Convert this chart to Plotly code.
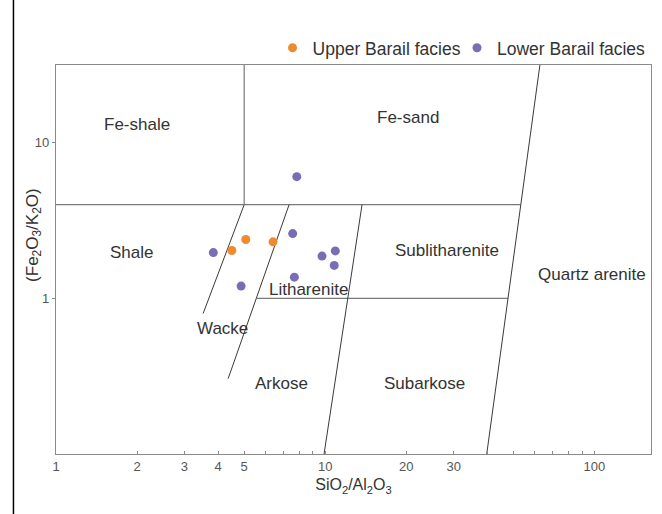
import plotly.graph_objects as go

# Sample geochemistry: SiO2/Al2O3 (x) against Fe2O3/K2O (y)
upper_sio2_al2o3 = [4.50, 5.07, 6.40]
upper_fe2o3_k2o = [2.03, 2.39, 2.31]

lower_sio2_al2o3 = [7.84, 7.57, 3.84, 9.73, 10.9, 10.8, 7.68, 4.87]
lower_fe2o3_k2o = [6.06, 2.61, 1.97, 1.87, 2.02, 1.63, 1.37, 1.20]

# Classification field boundaries (Herron-type diagram), as (x, y) end points
fe_split_x = [5.0, 5.0]
fe_split_y = [4.0, 31.6]
fe_base_x = [1.0, 53.2]
fe_base_y = [4.0, 4.0]
quartz_x = [62.7, 39.8]
quartz_y = [31.6, 0.1]
sublith_x = [13.7, 9.9]
sublith_y = [4.0, 0.1]
lith_base_x = [5.58, 47.8]
lith_base_y = [1.0, 1.0]
wacke_lith_x = [7.34, 4.36]
wacke_lith_y = [4.0, 0.305]
shale_wacke_x = [5.0, 3.52]
shale_wacke_y = [4.0, 0.80]

# Field names and their label positions (log10 of x, log10 of y)
field_names = ["Fe-shale", "Fe-sand", "Shale", "Sublitharenite", "Quartz arenite",
               "Litharenite", "Wacke", "Arkose", "Subarkose"]
field_logx = [0.302, 1.307, 0.279, 1.452, 1.990, 0.936, 0.617, 0.836, 1.367]
field_logy = [1.116, 1.161, 0.297, 0.310, 0.155, 0.058, -0.194, -0.548, -0.548]

x_tickvals = [1, 2, 3, 4, 5, 6, 7, 8, 9, 10, 20, 30, 40, 50, 60, 70, 80, 90, 100]
x_ticktext = ["1", "2", "3", "4", "5", "", "", "", "", "10", "20", "30",
              "", "", "", "", "", "", "100"]
y_tickvals = [1, 10]
y_ticktext = ["1", "10"]

FONT = "Liberation Sans, Arial, sans-serif"
ORANGE = "#F08A2E"
PURPLE = "#7B6DB4"
FRAME = "#8a8a8a"

fig = go.Figure()

grey_lines = [(fe_split_x, fe_split_y), (fe_base_x, fe_base_y), (lith_base_x, lith_base_y)]
dark_lines = [(quartz_x, quartz_y), (sublith_x, sublith_y),
              (wacke_lith_x, wacke_lith_y), (shale_wacke_x, shale_wacke_y)]
for xs, ys in grey_lines:
    fig.add_trace(go.Scatter(x=xs, y=ys, mode="lines", showlegend=False, hoverinfo="skip",
                             line=dict(color="#7a7a7a", width=1.2)))
for xs, ys in dark_lines:
    fig.add_trace(go.Scatter(x=xs, y=ys, mode="lines", showlegend=False, hoverinfo="skip",
                             line=dict(color="#3a3a3a", width=1)))

fig.add_trace(go.Scatter(x=upper_sio2_al2o3, y=upper_fe2o3_k2o, mode="markers",
                         name="Upper Barail facies", legend="legend",
                         marker=dict(color=ORANGE, size=9)))
fig.add_trace(go.Scatter(x=lower_sio2_al2o3, y=lower_fe2o3_k2o, mode="markers",
                         name="Lower Barail facies", legend="legend2",
                         marker=dict(color=PURPLE, size=9)))

for name, lx, ly in zip(field_names, field_logx, field_logy):
    fig.add_annotation(x=lx, y=ly, xref="x", yref="y", text=name, showarrow=False,
                       font=dict(family=FONT, size=17, color="#333333"))

# y-axis title
fig.add_annotation(x=-0.06, y=0.564, xref="paper", yref="paper",
                   text="(Fe<sub>2</sub>O<sub>3</sub>/K<sub>2</sub>O)", textangle=-90,
                   showarrow=False, font=dict(family=FONT, size=17, color="#333333"))

# left border rule of the figure panel
fig.add_shape(type="line", xref="paper", yref="paper", x0=-0.0715, x1=-0.0715,
              y0=-0.16, y1=1.17, line=dict(color="black", width=1.5))

legend_style = dict(orientation="h", xanchor="right", y=1.044, yanchor="middle",
                    font=dict(family=FONT, size=17.5, color="#333333"),
                    itemwidth=30, bgcolor="rgba(0,0,0,0)")

fig.update_layout(
    width=662, height=514,
    margin=dict(l=56, r=11, t=65, b=60),
    paper_bgcolor="white", plot_bgcolor="white",
    font=dict(family=FONT, color="#333333"),
    legend=dict(x=0.69, **legend_style),
    legend2=dict(x=1.0, **legend_style),
    xaxis=dict(type="log", range=[0, 2.21], showgrid=False, zeroline=False,
               showline=True, linecolor=FRAME, linewidth=1.2, mirror=True,
               ticks="inside", ticklen=3, tickcolor=FRAME,
               tickvals=x_tickvals, ticktext=x_ticktext,
               tickfont=dict(family=FONT, size=13, color="#555555"),
               title=dict(text="SiO<sub>2</sub>/Al<sub>2</sub>O<sub>3</sub>",
                          font=dict(family=FONT, size=16, color="#333333"), standoff=6)),
    yaxis=dict(type="log", range=[-1, 1.5], showgrid=False, zeroline=False,
               showline=True, linecolor=FRAME, linewidth=1.2, mirror=True,
               ticks="outside", ticklen=3, tickcolor=FRAME,
               tickvals=y_tickvals, ticktext=y_ticktext,
               tickfont=dict(family=FONT, size=13, color="#555555")),
)

fig.write_html("out.html")
